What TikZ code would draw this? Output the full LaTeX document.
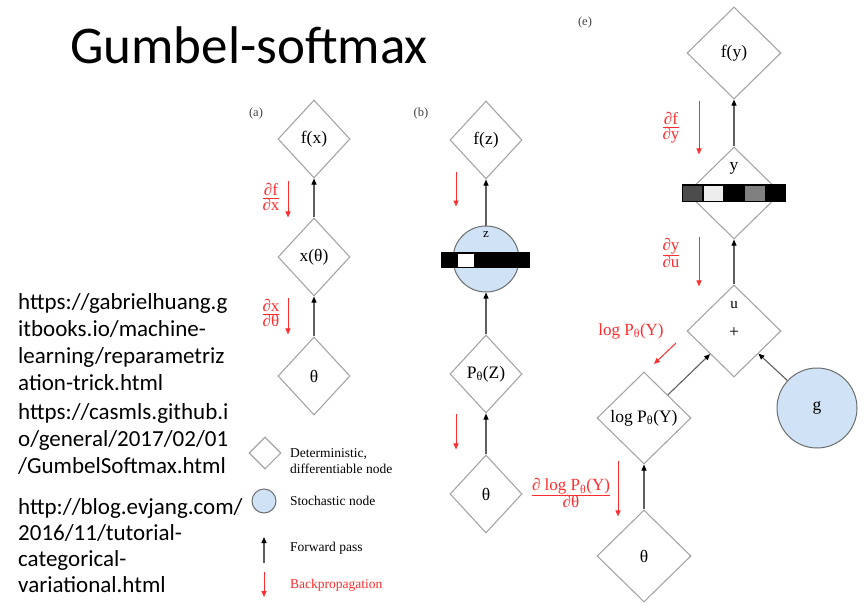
\documentclass[tikz,border=0pt]{standalone}
\usepackage{fontspec}
\setmainfont{Liberation Serif}
\newfontfamily\calibri{Carlito}
\usetikzlibrary{shapes.geometric,arrows.meta}

\definecolor{diamgray}{RGB}{165,165,165}
\definecolor{shaftgray}{RGB}{95,95,95}
\definecolor{backred}{RGB}{255,45,45}
\definecolor{stochblue}{RGB}{207,226,246}
\definecolor{circgray}{RGB}{110,110,110}

\newcommand{\pfr}[2]{$\frac{\mbox{#1}}{\mbox{#2}}$}

\tikzset{
	detnode/.style = {
		shape = diamond,
		draw = diamgray,
		line width = 1.1pt,
		inner sep = 0pt,
		minimum width = 72pt,
		minimum height = 78pt,
		font = \fontsize{17.5}{20}\selectfont,
	},
	detbig/.style = {
		detnode,
		minimum width = 94pt,
		minimum height = 92pt,
	},
	stochnode/.style = {
		shape = circle,
		draw = circgray,
		fill = stochblue,
		line width = 1pt,
		inner sep = 0pt,
		minimum size = 66pt,
		font = \fontsize{17.5}{20}\selectfont,
	},
	fwd/.style = {
		draw = shaftgray,
		line width = 1.1pt,
		-{Triangle[length=6pt,width=5pt,fill=black,color=black]},
	},
	back/.style = {
		draw = backred,
		line width = 1pt,
		-{Triangle[length=6pt,width=5pt]},
	},
	redlabel/.style = {
		text = backred,
		font = \fontsize{17}{19}\selectfont,
		inner sep = 0pt,
	},
	plainlabel/.style = {
		font = \fontsize{17.5}{20}\selectfont,
		inner sep = 0pt,
	},
	panel/.style = {
		font = \fontsize{12.5}{14}\selectfont,
		text = black!75,
		inner sep = 0pt,
	},
	legendtext/.style = {
		font = \fontsize{13.5}{16}\selectfont,
		align = left,
		anchor = west,
		inner sep = 0pt,
	},
	linktext/.style = {
		font = \calibri\fontsize{23}{27}\selectfont,
		align = left,
		anchor = base west,
		inner sep = 0pt,
	},
}

\begin{document}
\begin{tikzpicture}[x=1pt, y=-1pt]
	\useasboundingbox (0, 0) rectangle (867, 608);

	% title and links (anchored on their last lines)
	\node (title) [anchor=base west, inner sep=0pt, font=\calibri\fontsize{53}{60}\selectfont] at (70, 63) {Gumbel-softmax};
	\node (link1) [linktext] at (18, 390) {https://gabrielhuang.g\\itbooks.io/machine-\\learning/reparametriz\\ation-trick.html};
	\node (link2) [linktext] at (18, 473) {https://casmls.github.i\\o/general/2017/02/01\\/GumbelSoftmax.html};
	\node (link3) [linktext, font=\calibri\fontsize{23}{26}\selectfont] at (18, 592) {http://blog.evjang.com/\\2016/11/tutorial-\\categorical-\\variational.html};

	% panel (a)
	\node (pa) [panel] at (256, 113) {(a)};
	\draw (314, 139) node (af) [detnode] {f(x)};
	\draw (314, 257) node (ax) [detnode] {x(θ)};
	\draw (314, 376) node (at) [detnode] {θ};

	\draw [fwd] (ax) -- (af);
	\draw [fwd] (at) -- (ax);
	\draw [back] ([xshift=-26pt, yshift=-2pt]af.south) -- ([xshift=-26pt]ax.north);
	\draw [back] ([xshift=-26pt, yshift=-1pt]ax.south) -- ([xshift=-26pt, yshift=2pt]at.north);
	\node (dfdx) [redlabel] at (271, 197) {\pfr{∂f}{∂x}};
	\node (dxdt) [redlabel] at (271, 313) {\pfr{∂x}{∂θ}};

	% panel (b)
	\node (pb) [panel] at (421, 113) {(b)};
	\draw (486, 140) node (bf) [detnode] {f(z)};
	\draw (486, 259) node (bz) [stochnode] {};
	\draw (486, 374) node (bp) [detnode] {P\textsubscript{θ}(Z)};
	\draw (486, 494) node (bt) [detnode] {θ};
	\fill [black] (441, 252) rectangle (530, 268);
	\fill [white] (458, 253.5) rectangle (474, 266.5);
	\node (bzlab) [plainlabel, font=\fontsize{13}{15}\selectfont] at (486, 235) {z};

	\draw [fwd] (bz) -- (bf);
	\draw [fwd] (bp) -- (bz);
	\draw [fwd] (bt) -- (bp);
	\draw [back] ([xshift=-30pt, yshift=8pt]bf.south) -- ([xshift=-30pt, yshift=19pt]bz.north);
	\draw [back] ([xshift=-30pt]bp.south) -- ([xshift=-30pt, yshift=5pt]bt.north);

	% panel (e)
	\node (pe) [panel] at (585, 22) {(e)};
	\draw (734, 53) node (ef) [detbig] {f(y)};
	\draw (734, 193) node (ey) [detbig] {};
	\draw (734, 331) node (eu) [detbig] {};
	\draw (644, 418) node (elog) [detbig] {log P\textsubscript{θ}(Y)};
	\draw (644, 556) node (et) [detbig] {θ};
	\draw (817, 408) node (eg) [stochnode, minimum size=80pt] {g};

	\fill [black] (682, 184) rectangle (786, 202);
	\foreach \shade [count=\i from 0] in {70, 7, 100, 50, 100} {
		\fill [black!\shade] (683 + \i*20.8, 185.5) rectangle (683 + \i*20.8 + 19.2, 200.5);
	}
	\node (eylab) [plainlabel] at (734, 168) {y};
	\node (eulab) [plainlabel, font=\fontsize{15}{17}\selectfont] at (734, 305) {u};
	\node (eplus) [plainlabel] at (734, 333) {+};

	\draw [fwd] (ey) -- (ef);
	\draw [fwd] (eu) -- (ey);
	\draw [fwd] (elog) -- (eu);
	\draw [fwd] (eg) -- (eu);
	\draw [fwd] (et) -- (elog);

	\coordinate (lp1) at (676, 343);
	\coordinate (lp2) at (654, 364);
	\draw [back] ([xshift=-35pt, yshift=-1pt]ef.south) -- ([xshift=-35pt, yshift=-8pt]ey.north);
	\draw [back] ([xshift=-35pt, yshift=3pt]ey.south) -- ([xshift=-35pt, yshift=-2pt]eu.north);
	\draw [back] (lp1) -- (lp2);
	\draw [back] ([xshift=-26pt, yshift=4pt]elog.south) -- ([xshift=-26pt, yshift=-7pt]et.north);
	\node (dfdy) [redlabel] at (671, 128) {\pfr{∂f}{∂y}};
	\node (dydu) [redlabel] at (671, 253) {\pfr{∂y}{∂u}};
	\node (logp) [redlabel] at (631, 331) {log P\textsubscript{θ}(Y)};
	\node (dldt) [redlabel] at (571, 493) {\pfr{∂ log P\textsubscript{θ}(Y)}{∂θ}};

	% legend
	\draw (265, 453) node (ldiam) [detnode, minimum width=32pt, minimum height=32pt] {};
	\draw (264, 501) node (lcirc) [stochnode, minimum size=24pt] {};
	\coordinate (lf1) at (264, 563);
	\coordinate (lf2) at (264, 537);
	\coordinate (lb1) at (264, 572);
	\coordinate (lb2) at (264, 597);
	\draw [fwd] (lf1) -- (lf2);
	\draw [back] (lb1) -- (lb2);
	\node (ldet) [legendtext] at (290, 461) {Deterministic,\\differentiable node};
	\node (lsto) [legendtext] at (290, 501) {Stochastic node};
	\node (lfwd) [legendtext] at (290, 548) {Forward pass};
	\node (lbck) [legendtext, text=backred] at (290, 585) {Backpropagation};
\end{tikzpicture}
\end{document}
